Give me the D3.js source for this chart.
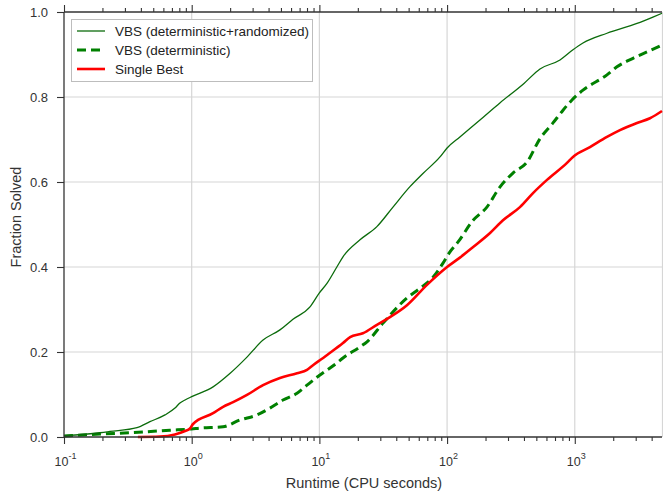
<!DOCTYPE html>
<html>
<head>
<meta charset="utf-8">
<script src="https://cdn.jsdelivr.net/npm/d3@7"></script>
<style>
  html, body { margin: 0; padding: 0; background: #fff; }
  svg { display: block; font-family: "Liberation Sans", Arial, sans-serif; }
</style>
</head>
<body>
<svg id="chart" width="663" height="493"></svg>
<script>
// runtime (CPU s), fraction solved
const vbsAll = [
  [0.1, 0.003], [0.191, 0.01], [0.229, 0.013], [0.373, 0.022], [0.471, 0.036],
  [0.618, 0.052], [0.74, 0.068], [0.809, 0.08], [0.887, 0.087], [1.0, 0.095],
  [1.47, 0.118], [2.0, 0.15], [2.71, 0.188], [3.62, 0.228], [4.91, 0.252],
  [6.21, 0.277], [8.44, 0.306], [10, 0.339], [11.5, 0.362], [13.7, 0.40],
  [15.3, 0.424], [20.8, 0.464], [28.2, 0.495], [37.7, 0.541], [51.2, 0.589],
  [64.7, 0.62], [88, 0.659], [100, 0.68], [126, 0.706], [181, 0.746],
  [259, 0.786], [400, 0.832], [534, 0.866], [766, 0.887], [968, 0.911],
  [1159, 0.927], [1787, 0.95], [3070, 0.973], [4093, 0.988], [4820, 0.997]
]
const vbsDet = [
  [0.1, 0.002], [0.191, 0.007], [0.329, 0.01], [0.676, 0.016], [1.0, 0.019],
  [1.16, 0.021], [1.76, 0.024], [2.39, 0.04], [3.25, 0.052], [4.1, 0.068],
  [5.19, 0.087], [6.68, 0.103], [8.0, 0.122], [10.1, 0.146], [13.7, 0.174],
  [15.3, 0.186], [20.8, 0.212], [23.6, 0.224], [31.5, 0.268], [48.5, 0.327],
  [61.4, 0.35], [77.6, 0.376], [92.9, 0.409], [105, 0.435], [122, 0.459],
  [160, 0.51], [205, 0.541], [259, 0.588], [328, 0.621], [423, 0.647],
  [534, 0.702], [675, 0.739], [809, 0.769], [951, 0.793], [1159, 0.816],
  [1787, 0.852], [2138, 0.871], [2857, 0.891], [3675, 0.906], [4820, 0.922]
]
const singleBest = [
  [0.379, 0.0], [0.565, 0.001], [0.74, 0.006], [0.887, 0.014], [0.97, 0.02],
  [1.02, 0.03], [1.47, 0.056], [1.76, 0.071], [2.11, 0.082], [2.71, 0.099],
  [3.62, 0.122], [4.91, 0.139], [6.68, 0.15], [8.0, 0.158], [8.91, 0.169],
  [10.7, 0.186], [11.5, 0.193], [15.3, 0.221], [17.4, 0.235], [21.9, 0.244],
  [28.2, 0.264], [35.7, 0.282], [48.5, 0.31], [69.6, 0.358], [100, 0.4],
  [126, 0.422], [160, 0.447], [217, 0.48], [274, 0.51], [372, 0.541],
  [471, 0.574], [606, 0.605], [869, 0.645], [968, 0.659], [1315, 0.682],
  [1787, 0.706], [2259, 0.722], [3070, 0.739], [3880, 0.75], [4820, 0.767]
]

const xMajor = [0.1, 1, 10, 100, 1000]
const xExp = ['-1', '0', '1', '2', '3']
const yTicks = [0, 0.2, 0.4, 0.6, 0.8, 1.0]

const seriesNames = ['VBS (deterministic+randomized)', 'VBS (deterministic)', 'Single Best']

let svg = d3.select('#chart')

let plotLeft = 64, plotRight = 662, plotTop = 12, plotBottom = 437

let x = d3.scaleLog().domain([0.1, 4820]).range([plotLeft, plotRight])
let y = d3.scaleLinear().domain([0, 1]).range([plotBottom, plotTop])

// minor ticks 2..9 per decade
let xMinor = []
for (let d = 0.1; d < 5000; d *= 10) {
  for (let k = 2; k <= 9; k++) {
    let v = d * k
    if (v <= 4820) xMinor.push(v)
  }
}

// grid
let grid = svg.append('g').attr('stroke', '#d6d6d6').attr('stroke-width', 1.2)
grid.selectAll('.gx').data(xMajor.slice(1))
  .enter().append('line')
  .attr('x1', d => x(d)).attr('x2', d => x(d))
  .attr('y1', plotTop).attr('y2', plotBottom)
grid.selectAll('.gy').data(yTicks.slice(1, -1))
  .enter().append('line')
  .attr('x1', plotLeft).attr('x2', plotRight)
  .attr('y1', d => y(d)).attr('y2', d => y(d))
grid.append('line')
  .attr('x1', plotRight + 0.5).attr('x2', plotRight + 0.5)
  .attr('y1', plotTop).attr('y2', plotBottom)

// curves
let line = d3.line().x(d => x(d[0])).y(d => y(d[1])).curve(d3.curveMonotoneX)

svg.append('path').datum(vbsDet)
  .attr('d', line).attr('fill', 'none')
  .attr('stroke', '#008000').attr('stroke-width', 3)
  .attr('stroke-dasharray', '9,5')

svg.append('path').datum(singleBest)
  .attr('d', line).attr('fill', 'none')
  .attr('stroke', '#ff0000').attr('stroke-width', 2.6)

svg.append('path').datum(vbsAll)
  .attr('d', line).attr('fill', 'none')
  .attr('stroke', '#0b6b0b').attr('stroke-width', 1.3)

// axes
function styleAxis(g) {
  g.select('.domain').remove()
  g.selectAll('.tick line').attr('stroke', '#333').attr('stroke-width', 1.1)
  g.selectAll('text').remove()
}

svg.append('g').attr('transform', `translate(0,${plotBottom})`)
  .call(d3.axisBottom(x).tickValues(xMajor).tickSize(7)).call(styleAxis)
svg.append('g').attr('transform', `translate(0,${plotBottom})`)
  .call(d3.axisBottom(x).tickValues(xMinor).tickSize(4)).call(styleAxis)
svg.append('g').attr('transform', `translate(0,${plotTop})`)
  .call(d3.axisTop(x).tickValues(xMajor).tickSize(7)).call(styleAxis)
svg.append('g').attr('transform', `translate(0,${plotTop})`)
  .call(d3.axisTop(x).tickValues(xMinor).tickSize(4)).call(styleAxis)

let yAxis = svg.append('g').attr('transform', `translate(${plotLeft},0)`)
  .call(d3.axisLeft(y).tickValues(yTicks).tickFormat(d3.format('.1f')).tickSize(7).tickPadding(9))
yAxis.select('.domain').remove()
yAxis.selectAll('.tick line').attr('stroke', '#333').attr('stroke-width', 1.1)
yAxis.selectAll('text').attr('fill', '#333').style('font-size', '13px')
  .style('font-family', '"Liberation Sans", Arial, sans-serif')

// x tick labels with superscripts
let xl = svg.append('g').attr('fill', '#333')
xMajor.forEach((v, i) => {
  let t = xl.append('text')
    .attr('x', x(v) + 1.5).attr('y', 466)
    .attr('text-anchor', 'middle')
    .style('font-size', '12.5px')
  t.append('tspan').text('10')
  t.append('tspan').attr('dy', -7).style('font-size', '9px').text(xExp[i])
})

// spines
let sp = svg.append('g').attr('stroke', '#333').attr('stroke-width', 1.3)
sp.append('line').attr('x1', plotLeft).attr('x2', plotLeft).attr('y1', plotTop).attr('y2', plotBottom)
sp.append('line').attr('x1', plotLeft).attr('x2', plotRight).attr('y1', plotTop).attr('y2', plotTop)
sp.append('line').attr('x1', plotLeft).attr('x2', plotRight).attr('y1', plotBottom).attr('y2', plotBottom)

// axis titles
svg.append('text')
  .attr('x', 364).attr('y', 488)
  .attr('text-anchor', 'middle').attr('fill', '#333')
  .style('font-size', '14.5px')
  .text('Runtime (CPU seconds)')

svg.append('text')
  .attr('transform', 'translate(21,217) rotate(-90)')
  .attr('text-anchor', 'middle').attr('fill', '#333')
  .style('font-size', '14.5px')
  .text('Fraction Solved')

// legend
let lg = svg.append('g')
lg.append('rect')
  .attr('x', 71.5).attr('y', 19.5).attr('width', 241).attr('height', 62)
  .attr('fill', '#fff').attr('stroke', '#bdbdbd').attr('stroke-width', 1)

let legStyles = [
  { color: '#0b6b0b', width: 1.3, dash: null },
  { color: '#008000', width: 3, dash: '9,5' },
  { color: '#ff0000', width: 2.6, dash: null }
]
seriesNames.forEach((name, i) => {
  let cy = 31 + i * 19
  lg.append('line')
    .attr('x1', 77).attr('x2', 105).attr('y1', cy).attr('y2', cy)
    .attr('stroke', legStyles[i].color).attr('stroke-width', legStyles[i].width)
    .attr('stroke-dasharray', legStyles[i].dash)
  lg.append('text')
    .attr('x', 115).attr('y', cy + 5)
    .attr('fill', '#222').style('font-size', '13.5px')
    .text(name)
})
</script>
</body>
</html>
